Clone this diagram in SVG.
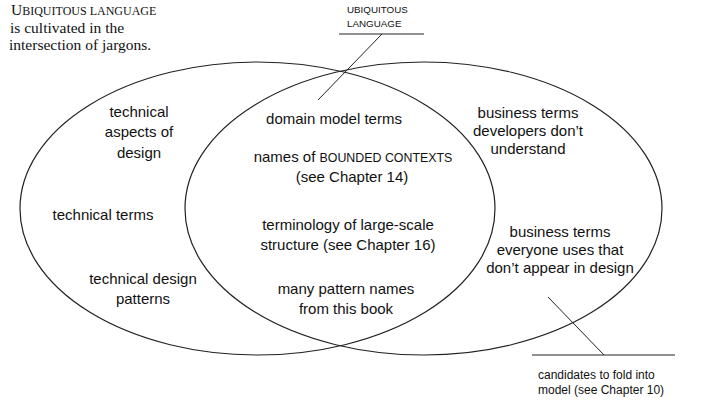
<svg xmlns="http://www.w3.org/2000/svg" width="701" height="411" viewBox="0 0 701 411">
<style>
.ell{fill:none;stroke:#222;stroke-width:1.2}
.ln{fill:none;stroke:#222;stroke-width:1}
.t{font-family:"Liberation Sans",Arial,sans-serif;font-size:15px;fill:#111;text-anchor:middle}
.s{font-family:"Liberation Sans",Arial,sans-serif;font-size:9.8px;fill:#111}
.c{font-family:"Liberation Sans",Arial,sans-serif;font-size:12px;fill:#111}
.sf{font-family:"Liberation Serif","Times New Roman",serif;font-size:15.5px;fill:#111}
</style>
<rect width="701" height="411" fill="#fff"/>
<g id="title">
<text class="sf" x="11" y="15">U<tspan font-size="12">BIQUITOUS LANGUAGE</tspan></text>
<text class="sf" x="10" y="33">is cultivated in the</text>
<text class="sf" x="9" y="50">intersection of jargons.</text>
</g>
<g id="technical-jargon">
<ellipse class="ell" cx="257.5" cy="208.5" rx="237.5" ry="146.5"/>
<text class="t" x="139" y="117">technical</text>
<text class="t" x="139" y="137">aspects of</text>
<text class="t" x="139" y="158">design</text>
<text class="t" x="103" y="220">technical terms</text>
<text class="t" x="143" y="284">technical design</text>
<text class="t" x="143" y="304">patterns</text>
</g>
<g id="business-jargon">
<ellipse class="ell" cx="423.5" cy="208.5" rx="238.5" ry="146.5"/>
<text class="t" x="528" y="118">business terms</text>
<text class="t" x="528" y="136">developers don’t</text>
<text class="t" x="528" y="154">understand</text>
<text class="t" x="560" y="237">business terms</text>
<text class="t" x="560" y="255">everyone uses that</text>
<text class="t" x="560" y="273">don’t appear in design</text>
</g>
<g id="intersection">
<text class="t" x="334" y="124">domain model terms</text>
<text class="t" x="353" y="162">names of <tspan font-size="12.4">BOUNDED CONTEXTS</tspan></text>
<text class="t" x="352" y="182">(see Chapter 14)</text>
<text class="t" x="348" y="230">terminology of large-scale</text>
<text class="t" x="348" y="250">structure (see Chapter 16)</text>
<text class="t" x="346" y="294">many pattern names</text>
<text class="t" x="346" y="314">from this book</text>
</g>
<g id="ul-label">
<text class="s" x="347" y="13">UBIQUITOUS</text>
<text class="s" x="347" y="27">LANGUAGE</text>
</g>
<g id="candidates-label">
<text class="c" x="538" y="379">candidates to fold into</text>
<text class="c" x="538" y="394">model (see Chapter 10)</text>
</g>
<g id="connectors">
<polyline class="ln" points="339,34 424,34"/>
<line class="ln" x1="382" y1="34" x2="318" y2="100"/>
<polyline class="ln" points="532,355 675,355"/>
<line class="ln" x1="604" y1="355" x2="548" y2="297"/>
</g>
</svg>
